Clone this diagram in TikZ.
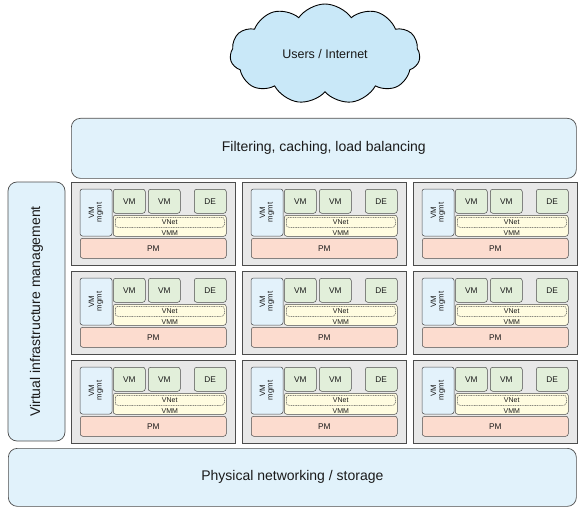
\documentclass[tikz,border=0pt]{standalone}
\usepackage{fontspec}
\setmainfont{Liberation Sans}
\usetikzlibrary{shapes.symbols}
\definecolor{cloudblue}{HTML}{C9E8F8}
\definecolor{layerblue}{HTML}{E1F2FB}
\definecolor{mgmtblue}{HTML}{E3F2FB}
\definecolor{cellgray}{HTML}{E8E8E8}
\definecolor{vmgreen}{HTML}{E2EFDA}
\definecolor{vmmyellow}{HTML}{FFFCE0}
\definecolor{pmpink}{HTML}{FCDCCF}
\definecolor{edgegray}{HTML}{4D4D4D}
\definecolor{textgray}{HTML}{1A1A1A}
\begin{document}
\begin{tikzpicture}[x=1pt,y=-1pt,
        layer/.style={draw=edgegray,fill=layerblue,rounded corners=9pt,line width=0.7pt,inner sep=0pt,anchor=north west,text=textgray,font=\fontsize{14}{16}\selectfont},
        cell/.style={draw=edgegray,fill=cellgray,line width=0.8pt,inner sep=0pt,anchor=north west,minimum width=164pt,minimum height=83pt},
        part/.style={draw=edgegray,rounded corners=2.5pt,line width=0.5pt,inner sep=0pt,anchor=north west,text=textgray,font=\fontsize{8.3}{9}\selectfont}]
    \useasboundingbox (0,0) rectangle (580,513);
    \node[cloud,cloud puffs=11,cloud puff arc=110,aspect=2,draw=black,fill=cloudblue,line width=0.9pt,minimum width=190pt,minimum height=100pt,inner sep=0pt,text=textgray,font=\fontsize{12.5}{14}\selectfont] (users) at (325,54) {Users / Internet};

    \node[layer,minimum width=505pt,minimum height=60pt] (filter) at (71,118) {Filtering, caching, load balancing};
    \node[layer,rotate=90,anchor=center,minimum width=259pt,minimum height=57pt] (vim) at (36.5,311.5) {Virtual infrastructure management};
    \node[layer,minimum width=568pt,minimum height=58pt] (phys) at (8,448) {Physical networking / storage};

    \foreach \c in {0,1,2}
        \foreach \r in {0,1,2}{
            \pgfmathsetmacro\ox{71+171*\c}
            \pgfmathsetmacro\oy{182+89*\r}
            \node[cell] (cell-\c\r) at (\ox,\oy) {};
            \node[part,fill=mgmtblue,rotate=90,anchor=center,minimum width=47pt,minimum height=32pt,align=center,font=\fontsize{7.8}{7.6}\selectfont] (mgmt-\c\r) at (\ox+25,\oy+30.5) {VM\\mgmt};
            \node[part,fill=vmgreen,minimum width=32pt,minimum height=24pt] (vma-\c\r) at (\ox+42,\oy+7) {VM};
            \node[part,fill=vmgreen,minimum width=32pt,minimum height=24pt] (vmb-\c\r) at (\ox+77,\oy+7) {VM};
            \node[part,fill=vmgreen,minimum width=32pt,minimum height=24pt] (de-\c\r) at (\ox+123,\oy+7) {DE};
            \node[part,fill=vmmyellow,minimum width=113pt,minimum height=21pt,label={[anchor=south,inner sep=0.8pt,text=textgray,font=\fontsize{7}{7}\selectfont]south:VMM}] (vmm-\c\r) at (\ox+42,\oy+33) {};
            \node[part,fill=vmmyellow,dashed,dash pattern=on 1pt off 0.7pt,minimum width=109pt,minimum height=10pt,font=\fontsize{7}{7}\selectfont] (vnet-\c\r) at (\ox+44,\oy+35) {VNet};
            \node[part,fill=pmpink,minimum width=146pt,minimum height=20pt] (pm-\c\r) at (\ox+9,\oy+56) {PM};
        }
\end{tikzpicture}
\end{document}
